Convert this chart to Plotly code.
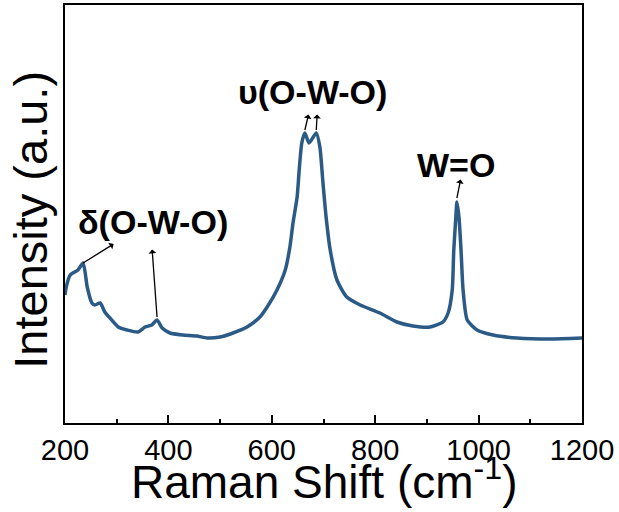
import plotly.graph_objects as go

# Raman spectrum, arbitrary intensity units
raman_shift = [200, 202, 210, 225, 235, 243, 252, 258, 268, 277, 287, 303, 320, 341, 355,
               368, 378, 388, 403, 428, 455, 475, 500, 525, 552, 577, 591, 610, 626, 635,
               641, 649, 653, 658, 664, 672, 686, 693, 699, 705, 713, 726, 745, 771, 809,
               842, 873, 906, 931, 941, 949, 952, 956, 958, 962, 966, 970, 978, 997, 1028,
               1074, 1138, 1200]
intensity = [128, 135, 148, 153, 160, 136, 120, 118, 120, 111, 105, 96, 93, 91, 96,
             98, 103, 95, 90, 88, 87, 85, 86, 90, 96, 106, 116, 133, 153, 176,
             200, 226, 253, 280, 290, 280, 290, 276, 240, 206, 173, 143, 126, 118, 110,
             101, 97, 96, 101, 110, 133, 173, 206, 221, 206, 173, 133, 103, 93, 88,
             85, 84, 85]

x_ticks = [200, 400, 600, 800, 1000, 1200]

# peak labels
delta_peaks = [235, 378]
nu_peaks = [664, 686]
wo_peak = 958

def I_at(v):
    return intensity[raman_shift.index(v)]

fig = go.Figure()
fig.add_trace(go.Scatter(x=raman_shift, y=intensity, mode="lines",
                         line=dict(color="#2a5a85", width=3.5, shape="spline", smoothing=0.6),
                         showlegend=False, hoverinfo="skip"))

arrow_style = dict(showarrow=True, text="", arrowside="start", arrowhead=2, arrowsize=1.0,
                   arrowwidth=1.3, arrowcolor="black", xref="x", yref="y")
# arrows (tail at peak, head pointing to the label)
fig.add_annotation(x=delta_peaks[0], y=I_at(delta_peaks[0]), ax=32, ay=-20, **arrow_style)
fig.add_annotation(x=delta_peaks[1], y=I_at(delta_peaks[1]) + 3, ax=-5, ay=-69, **arrow_style)
fig.add_annotation(x=nu_peaks[0], y=I_at(nu_peaks[0]) + 3, ax=4, ay=-17, **arrow_style)
fig.add_annotation(x=nu_peaks[1], y=I_at(nu_peaks[1]) + 3, ax=1, ay=-17, **arrow_style)
fig.add_annotation(x=wo_peak, y=I_at(wo_peak) + 4, ax=4, ay=-20, **arrow_style)

label_font = dict(family="Liberation Sans, Arial", size=34, color="black")
fig.add_annotation(x=delta_peaks[1], y=I_at(delta_peaks[1]), text="<b>δ(O-W-O)</b>",
                   showarrow=False, xshift=-4, yshift=98, font=label_font)
fig.add_annotation(x=sum(nu_peaks) / 2, y=I_at(nu_peaks[0]), text="<b>υ(O-W-O)</b>",
                   showarrow=False, xshift=2, yshift=41, font=label_font)
fig.add_annotation(x=wo_peak, y=I_at(wo_peak), text="<b>W=O</b>",
                   showarrow=False, xshift=-1, yshift=37, font=label_font)

# axis titles
fig.add_annotation(x=0.5, y=-0.133, xref="paper", yref="paper", showarrow=False,
                   xanchor="center", yanchor="middle", text="Raman Shift (cm<sup>-1</sup>)",
                   font=dict(size=46, family="Liberation Sans, Arial", color="black"))
fig.add_annotation(x=-0.066, y=0.486, xref="paper", yref="paper", showarrow=False,
                   xanchor="center", yanchor="middle", textangle=-90, text="Intensity (a.u.)",
                   font=dict(size=47, family="Liberation Sans, Arial", color="black"))

fig.update_layout(
    width=619, height=512,
    margin=dict(l=65, r=37, t=5, b=89, autoexpand=False),
    paper_bgcolor="white", plot_bgcolor="white",
    font=dict(family="Liberation Sans, Arial", color="black"),
    xaxis=dict(range=[200, 1200], tickvals=x_ticks, ticktext=[str(t) for t in x_ticks],
               ticks="inside", ticklen=8, tickwidth=1.5, tickcolor="black",
               minor=dict(dtick=100, ticks="inside", ticklen=4, tickwidth=1.5, tickcolor="black"),
               showline=True, linecolor="black", linewidth=2, mirror=True,
               showgrid=False, zeroline=False, automargin=False,
               tickfont=dict(size=29, family="Liberation Sans, Arial")),
    yaxis=dict(range=[0, 418], showticklabels=False, ticks="",
               showline=True, linecolor="black", linewidth=2, mirror=True,
               showgrid=False, zeroline=False, automargin=False),
)

fig.write_html("out.html", config={"displayModeBar": False},
               post_script="document.body.style.margin='0';")
